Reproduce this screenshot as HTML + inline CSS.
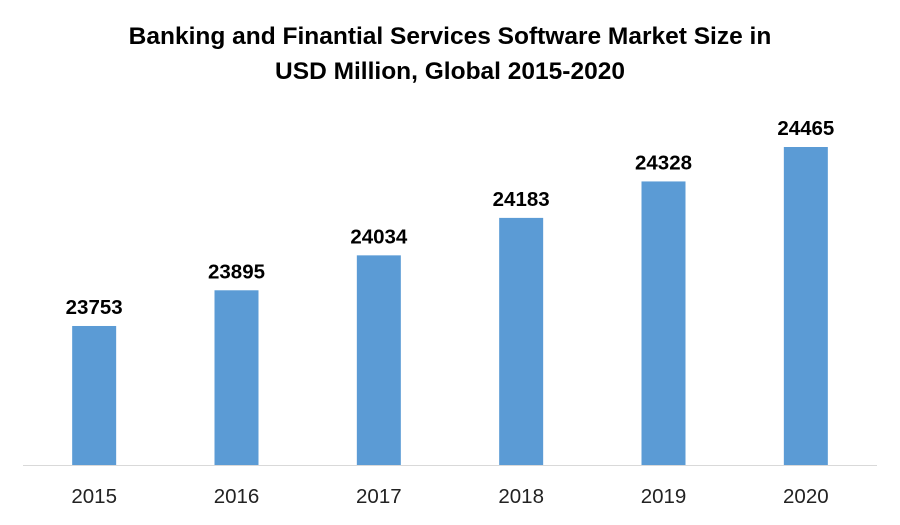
<!DOCTYPE html>
<html><head><meta charset="utf-8"><style>
body{margin:0;background:#fff;}
svg{display:block;font-family:"Liberation Sans",sans-serif;}
</style></head><body>
<svg id="chart" width="900" height="525" viewBox="0 0 900 525">
<text x="450" y="44" text-anchor="middle" font-size="24.5" font-weight="bold" fill="#000">Banking and Finantial Services Software Market Size in</text>
<text x="450" y="79" text-anchor="middle" font-size="24.5" font-weight="bold" fill="#000">USD Million, Global 2015-2020</text>
<line x1="23" y1="465.5" x2="877" y2="465.5" stroke="#d9d9d9" stroke-width="1"/>
<g id="bars"></g>
</svg>
<script>
const categories = ["2015","2016","2017","2018","2019","2020"];
const values = [23753, 23895, 24034, 24183, 24328, 24465];
const yMin = 23200, yMax = 24465;
const plotLeft = 23, plotRight = 877, baseY = 465, topY = 147;
const ns = "http://www.w3.org/2000/svg";
const g = document.getElementById("bars");
const band = (plotRight - plotLeft) / categories.length;
function xCenter(i){ return plotLeft + band * (i + 0.5); }
function yScale(v){ return baseY - (v - yMin) / (yMax - yMin) * (baseY - topY); }
categories.forEach((c, i) => {
  const cx = xCenter(i), y = yScale(values[i]);
  const r = document.createElementNS(ns, "rect");
  r.setAttribute("x", cx - 22); r.setAttribute("y", y);
  r.setAttribute("width", 44); r.setAttribute("height", baseY - y);
  r.setAttribute("fill", "#5b9bd5");
  
  
  g.appendChild(r);
  const t = document.createElementNS(ns, "text");
  t.setAttribute("x", cx); t.setAttribute("y", y - 12);
  t.setAttribute("text-anchor", "middle"); t.setAttribute("font-size", "20.5");
  t.setAttribute("font-weight", "bold"); t.textContent = values[i];
  
  
  g.appendChild(t);
  const l = document.createElementNS(ns, "text");
  l.setAttribute("x", cx); l.setAttribute("y", 503);
  l.setAttribute("text-anchor", "middle"); l.setAttribute("font-size", "20.5");
  l.setAttribute("fill", "#222"); l.textContent = c;
  
  
  g.appendChild(l);
});
</script>
</body></html>
